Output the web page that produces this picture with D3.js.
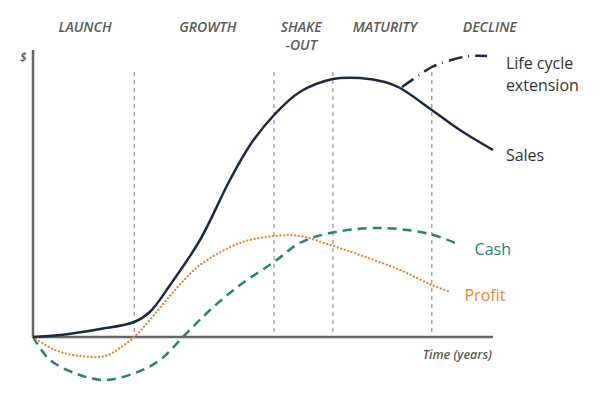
<!DOCTYPE html>
<html>
<head>
<meta charset="utf-8">
<title>Product Life Cycle</title>
<script src="https://d3js.org/d3.v7.min.js"></script>
<style>
  body { margin: 0; background: #fff; }
  text { font-family: "Open Sans", sans-serif; }
</style>
</head>
<body>
<script>
// phases: label lines and where each boundary sits (years)
var phases = [
  {lines: ["LAUNCH"], center: 1.13},
  {lines: ["GROWTH"], center: 3.8},
  {lines: ["SHAKE", "-OUT"], center: 5.83},
  {lines: ["MATURITY"], center: 7.65},
  {lines: ["DECLINE"], center: 9.93}
];
var boundaries = [2.2, 5.24, 6.52, 8.67];

// series values: [time, value]
var sales = [[0,0],[0.59,2],[1.46,8],[2.2,15],[2.54,25],[2.98,52],[3.63,97],[4.28,157],[4.72,192],
  [5.24,222],[5.8,245],[6.52,258],[7.11,259],[7.65,255],[7.98,249],[8.67,227],[9.28,207],[10,187]];
var extension = [[8.02,250],[8.4,262],[8.67,270],[9.17,278],[9.5,281],[9.87,281]];
var cash = [[0,0],[0.37,-23],[1.02,-38],[1.57,-43],[2.22,-36],[2.76,-23],[3.3,2],[3.85,27],[4.5,52],
  [5.24,75],[5.8,94],[6.46,104],[7.54,109],[8.63,103],[9.28,92]];
var profit = [[0,0],[0.48,-13],[1.02,-19],[1.57,-19],[1.89,-11],[2.2,0],[2.54,17],[3.09,47],[3.63,72],
  [4.5,94],[5.26,101],[5.8,101],[6.46,92],[7.11,82],[7.98,67],[8.67,52],[9.07,45]];

var width = 602, height = 396;
var svg = d3.select("body").append("svg").attr("width", width).attr("height", height);

var x = d3.scaleLinear().domain([0, 10]).range([33, 493]);
var y = d3.scaleLinear().domain([-60, 290]).range([397, 47]);

// phase boundaries
svg.selectAll("line.phase")
  .data(boundaries)
  .enter().append("line")
    .attr("x1", function(d) { return x(d); })
    .attr("x2", function(d) { return x(d); })
    .attr("y1", y(265))
    .attr("y2", y(0))
    .attr("stroke", "#7a7a7a")
    .attr("stroke-width", 1)
    .attr("stroke-dasharray", "4,4");

// axes
svg.append("line").attr("x1", x(0)).attr("x2", x(0)).attr("y1", y(287)).attr("y2", y(0))
  .attr("stroke", "#666").attr("stroke-width", 2.5);
svg.append("line").attr("x1", x(0) - 1).attr("x2", x(10)).attr("y1", y(0)).attr("y2", y(0))
  .attr("stroke", "#666").attr("stroke-width", 2.5);

var line = d3.line()
  .x(function(d) { return x(d[0]); })
  .y(function(d) { return y(d[1]); })
  .curve(d3.curveCatmullRom);

svg.append("path").datum(cash).attr("d", line)
  .attr("fill", "none").attr("stroke", "#2b7f78").attr("stroke-width", 2.5)
  .attr("stroke-dasharray", "9,6");
svg.append("path").datum(profit).attr("d", line)
  .attr("fill", "none").attr("stroke", "#e0893a").attr("stroke-width", 2.3)
  .attr("stroke-dasharray", "0.1,3.6").attr("stroke-linecap", "round");
svg.append("path").datum(sales).attr("d", line)
  .attr("fill", "none").attr("stroke", "#1c2942").attr("stroke-width", 2.5);
svg.append("path").datum(extension).attr("d", line)
  .attr("fill", "none").attr("stroke", "#1c2942").attr("stroke-width", 2.5)
  .attr("stroke-dasharray", "14,6,1,6");

// phase labels
var ph = svg.selectAll("text.phase").data(phases).enter().append("text")
  .attr("text-anchor", "middle")
  .attr("font-size", 14)
  .attr("font-style", "italic")
  .attr("font-weight", 600)
  .attr("fill", "#5a5a5a");
ph.selectAll("tspan").data(function(d) { return d.lines.map(function(l) { return {l: l, c: d.center}; }); })
  .enter().append("tspan")
    .attr("x", function(d) { return x(d.c); })
    .attr("y", function(d, i) { return 32 + i * 18; })
    .text(function(d) { return d.l; });

svg.append("text").attr("x", 20).attr("y", 62).attr("font-size", 12).attr("font-style", "italic")
  .attr("font-weight", 600).attr("fill", "#5a5a5a").text("$");
svg.append("text").attr("x", x(10) - 1).attr("y", 359).attr("text-anchor", "end")
  .attr("font-size", 12.5).attr("font-style", "italic").attr("font-weight", 600)
  .attr("fill", "#5a5a5a").text("Time (years)");

// series labels
var labels = [
  {t: "Life cycle", px: 10.28, v: 268, c: "#333"},
  {t: "extension", px: 10.28, v: 246, c: "#333"},
  {t: "Sales", px: 10.28, v: 176, c: "#333"},
  {t: "Cash", px: 9.6, v: 82, c: "#2b7f78"},
  {t: "Profit", px: 9.38, v: 36, c: "#e0893a"}
];
svg.selectAll("text.lab").data(labels).enter().append("text")
  .attr("x", function(d) { return x(d.px); })
  .attr("y", function(d) { return y(d.v); })
  .attr("font-size", 16)
  .attr("fill", function(d) { return d.c; })
  .text(function(d) { return d.t; });
</script>
</body>
</html>
